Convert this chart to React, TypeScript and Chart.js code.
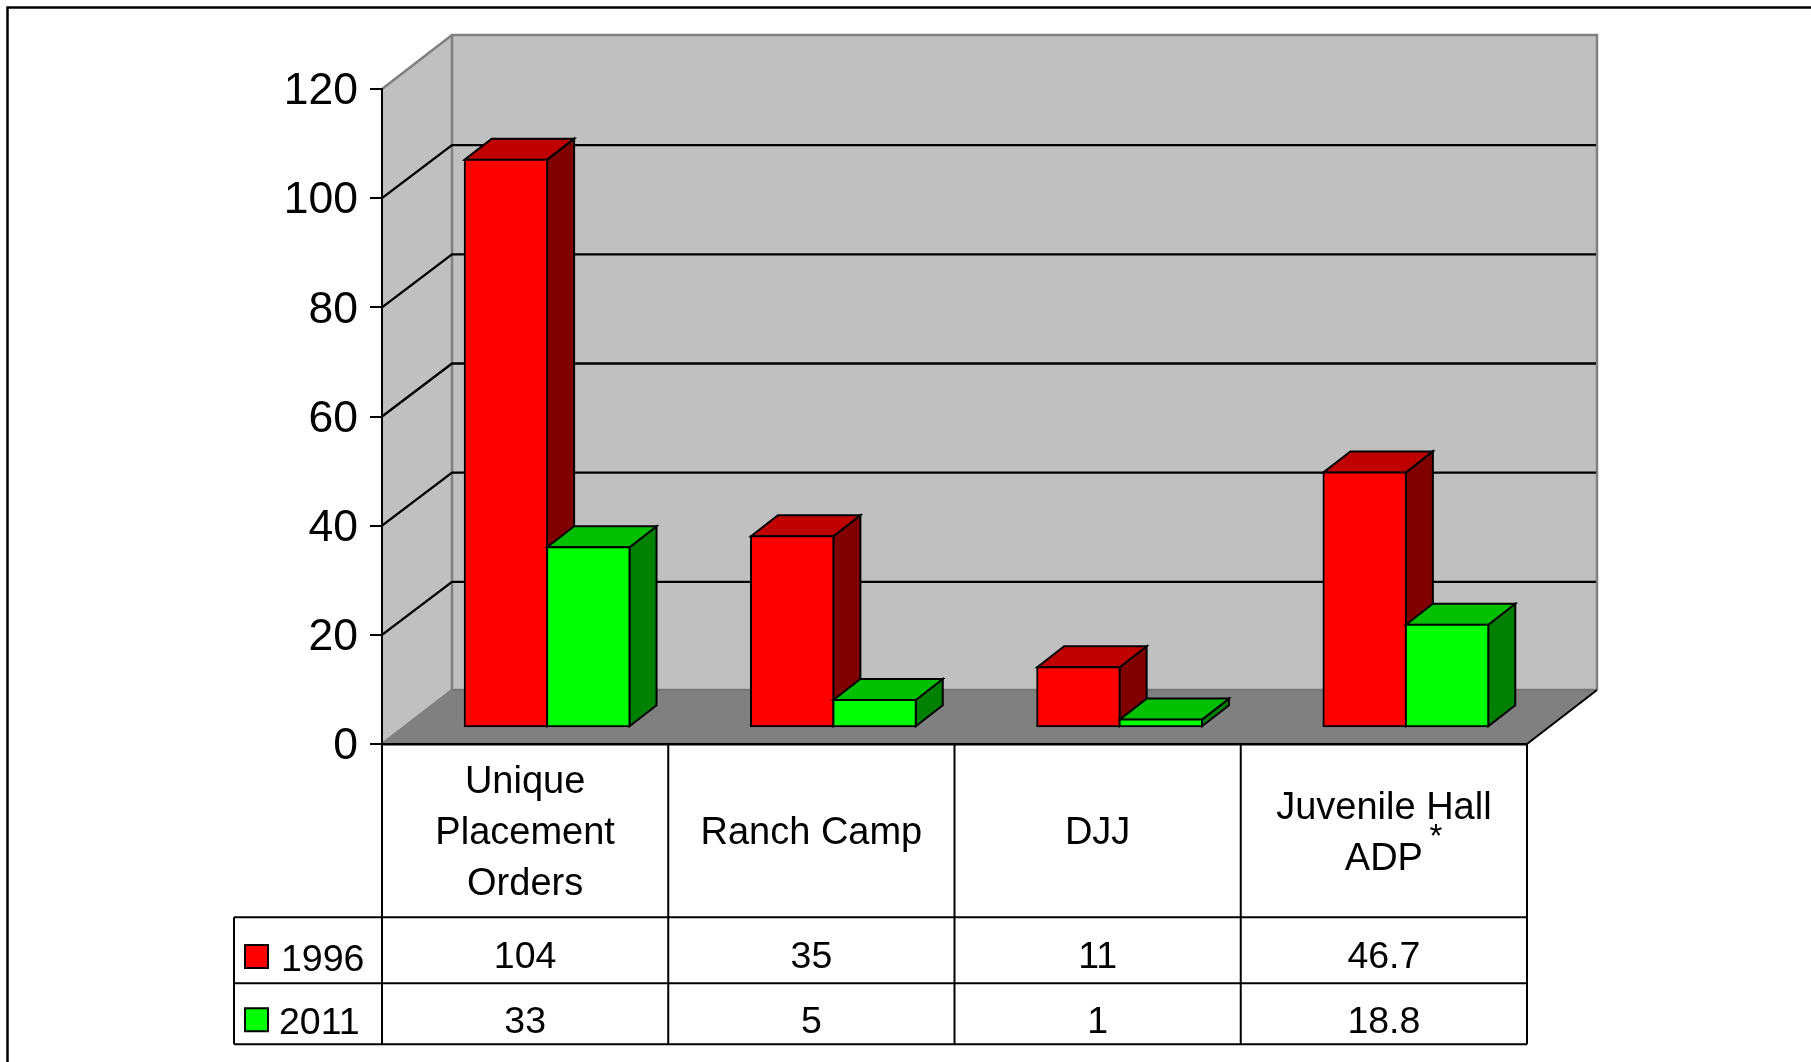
import React, { useEffect, useRef } from "react";
import { Chart, registerables } from "chart.js";

Chart.register(...registerables);

const categories = [["Unique", "Placement", "Orders"], "Ranch Camp", "DJJ", ["Juvenile Hall", "ADP"]];
const series1996 = [104, 35, 11, 46.7];
const series2011 = [33, 5, 1, 18.8];
const table1996 = ["104", "35", "11", "46.7"];
const table2011 = ["33", "5", "1", "18.8"];
const seriesNames = ["1996", "2011"];

const FONT = '"Liberation Sans", Arial, sans-serif';
const WALL_DX = 70;
const WALL_DY = 54;
const GRID_DY = 53;
const BAR_SHIFT_X = 22;
const BAR_SHIFT_Y = 16.7;
const BAR_DX = 27;
const BAR_DY = 21;
const TABLE_LEFT = 234;
const ROW_TOP = 917.3;
const ROW_MID = 983.3;
const ROW_BOTTOM = 1044.3;

const shades: Record<string, { top: string; side: string }> = {
  "1996": { top: "#C00000", side: "#800000" },
  "2011": { top: "#00C000", side: "#008000" },
};

function line(ctx: CanvasRenderingContext2D, pts: number[][], color: string, width: number) {
  ctx.beginPath();
  pts.forEach((p, i) => (i ? ctx.lineTo(p[0], p[1]) : ctx.moveTo(p[0], p[1])));
  ctx.strokeStyle = color;
  ctx.lineWidth = width;
  ctx.stroke();
}

function poly(ctx: CanvasRenderingContext2D, pts: number[][], fill: string, stroke?: string, width = 2) {
  ctx.beginPath();
  pts.forEach((p, i) => (i ? ctx.lineTo(p[0], p[1]) : ctx.moveTo(p[0], p[1])));
  ctx.closePath();
  ctx.fillStyle = fill;
  ctx.fill();
  if (stroke) {
    ctx.strokeStyle = stroke;
    ctx.lineWidth = width;
    ctx.lineJoin = "miter";
    ctx.stroke();
  }
}

const box3d = {
  id: "box3d",
  beforeDraw(chart: any) {
    const { ctx, chartArea: a } = chart;
    ctx.save();
    // page frame
    line(ctx, [[7.5, 1062], [7.5, 7.5], [1811, 7.5]], "#000", 2.5);
    // walls and floor
    const l = a.left, r = a.right, t = a.top, b = a.bottom;
    const bl = l + WALL_DX, br = r + WALL_DX, bt = t - WALL_DY, bb = b - WALL_DY;
    poly(ctx, [[l, t], [bl, bt], [bl, bb], [l, b]], "#C0C0C0");
    poly(ctx, [[bl, bt], [br, bt], [br, bb], [bl, bb]], "#C0C0C0");
    poly(ctx, [[l, b], [bl, bb], [br, bb], [r, b]], "#808080");
    line(ctx, [[l, t], [bl, bt], [br, bt], [br, bb]], "#808080", 2.5);
    line(ctx, [[bl, bt], [bl, bb], [l, b]], "#808080", 2.5);
    line(ctx, [[bl, bb], [br, bb]], "#777777", 2.5);
    ctx.restore();
  },
  beforeDatasetsDraw(chart: any) {
    const { ctx, chartArea: a, scales } = chart;
    ctx.save();
    scales.y.ticks.forEach((tk: any) => {
      if (tk.value === 0 || tk.value === scales.y.max) return;
      const y = scales.y.getPixelForValue(tk.value);
      line(ctx, [[a.left, y], [a.left + WALL_DX, y - GRID_DY], [a.right + WALL_DX - 1, y - GRID_DY]], "#000", 2.4);
    });
    line(ctx, [[a.right, a.bottom], [a.right + WALL_DX, a.bottom - WALL_DY]], "#000", 2);
    ctx.restore();
  },
  beforeDatasetDraw() {
    // Bars are painted in afterDatasetsDraw, first series first, so that the
    // second series covers the side face of the first.
    return false;
  },
  afterDatasetsDraw(chart: any) {
    const { ctx } = chart;
    ctx.save();
    ctx.translate(BAR_SHIFT_X, -BAR_SHIFT_Y);
    chart.data.datasets.forEach((ds: any, i: number) => {
      const meta = chart.getDatasetMeta(i);
      const c = shades[ds.label];
      meta.data.forEach((bar: any) => {
        const p = bar.getProps(["x", "y", "base", "width"], true);
        const x0 = p.x - p.width / 2, x1 = p.x + p.width / 2;
        poly(ctx, [[x1, p.y], [x1 + BAR_DX, p.y - BAR_DY], [x1 + BAR_DX, p.base - BAR_DY], [x1, p.base]], c.side, "#000");
        poly(ctx, [[x0, p.y], [x0 + BAR_DX, p.y - BAR_DY], [x1 + BAR_DX, p.y - BAR_DY], [x1, p.y]], c.top, "#000");
      });
      meta.controller.draw();
    });
    ctx.restore();
  },
  afterDraw(chart: any) {
    const { ctx, chartArea: a, scales } = chart;
    const x = scales.x;
    ctx.save();
    // table grid
    const edges = categories.map((_, i) => a.left + (i * (a.right - a.left)) / categories.length);
    edges.concat([a.right]).forEach((ex) => line(ctx, [[ex, a.bottom], [ex, ROW_BOTTOM]], "#000", 2));
    line(ctx, [[TABLE_LEFT, ROW_TOP], [TABLE_LEFT, ROW_BOTTOM]], "#000", 2);
    [ROW_TOP, ROW_MID, ROW_BOTTOM].forEach((ry) => line(ctx, [[TABLE_LEFT, ry], [a.right, ry]], "#000", 2));
    // table values
    ctx.fillStyle = "#000";
    ctx.font = `37.5px ${FONT}`;
    ctx.textAlign = "center";
    ctx.textBaseline = "middle";
    table1996.forEach((v, i) => ctx.fillText(v, x.getPixelForTick(i), 958));
    table2011.forEach((v, i) => ctx.fillText(v, x.getPixelForTick(i), 1023));
    // legend keys
    ctx.textAlign = "left";
    ctx.fillText(seriesNames[0], 281, 961);
    ctx.fillText(seriesNames[1], 279, 1024);
    poly(ctx, [[245, 945], [268, 945], [268, 968], [245, 968]], "#FF0000", "#000");
    poly(ctx, [[245, 1008.3], [268, 1008.3], [268, 1031.3], [245, 1031.3]], "#00FF00", "#000");
    // footnote mark
    ctx.font = `33px ${FONT}`;
    ctx.textAlign = "center";
    ctx.fillStyle = "#000";
    ctx.fillText("*", 1436, 838);
    ctx.restore();
  },
};

export default function App() {
  const ref = useRef<HTMLCanvasElement>(null);
  useEffect(() => {
    const chart = new Chart(ref.current!, {
      type: "bar",
      data: {
        labels: categories as any,
        datasets: [
          { label: seriesNames[0], data: series1996, backgroundColor: "#FF0000", borderColor: "#000", borderWidth: 2, borderSkipped: false, inflateAmount: 1, minBarLength: 7.7 },
          { label: seriesNames[1], data: series2011, backgroundColor: "#00FF00", borderColor: "#000", borderWidth: 2, borderSkipped: false, inflateAmount: 1, minBarLength: 7.7 },
        ],
      },
      plugins: [box3d as any],
      options: {
        responsive: false,
        animation: false,
        devicePixelRatio: 1,
        layout: { padding: { left: 0, top: 89, right: 284, bottom: 0 } },
        datasets: { bar: { categoryPercentage: 0.5757, barPercentage: 1 } },
        plugins: { legend: { display: false }, title: { display: false }, tooltip: { enabled: false } },
        scales: {
          x: {
            grid: { display: false, drawTicks: false },
            border: { display: true, color: "#000", width: 2.5 },
            afterFit: (s: any) => { s.height = 318; },
            ticks: {
              autoSkip: false,
              maxRotation: 0,
              minRotation: 0,
              crossAlign: "center",
              padding: 39,
              color: "#000",
              font: { family: FONT, size: 38, lineHeight: 1.34 },
            },
          },
          y: {
            min: 0,
            max: 120,
            grid: { drawOnChartArea: false, drawTicks: true, tickLength: 12, color: "#000", lineWidth: 2 },
            border: { display: true, color: "#000", width: 2 },
            afterFit: (s: any) => { s.width = 382; },
            ticks: {
              stepSize: 20,
              padding: 12,
              labelOffset: 3,
              color: "#000",
              font: { family: FONT, size: 44.5 },
            },
          },
        },
      },
    });
    return () => chart.destroy();
  }, []);
  return (
    <canvas
      ref={ref}
      width={1811}
      height={1062}
      style={{ position: "absolute", left: 0, top: 0, width: 1811, height: 1062, display: "block", background: "#fff" }}
    />
  );
}
